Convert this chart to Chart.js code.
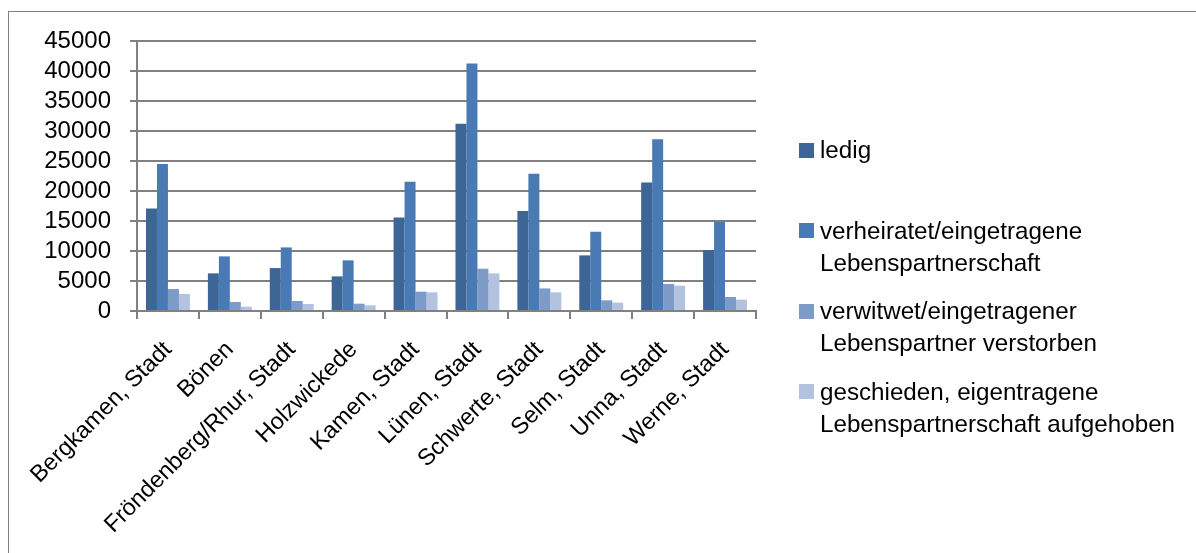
<!DOCTYPE html>
<html>
<head>
<meta charset="utf-8">
<script src="https://cdn.jsdelivr.net/npm/chart.js@4.4.1/dist/chart.umd.min.js"></script>
<style>
  html, body { margin: 0; padding: 0; background: #fff; }
  #wrap { position: relative; width: 1196px; height: 553px; overflow: hidden; }
  #frame { position: absolute; left: 8px; top: 11px; width: 1400px; height: 800px; border: 1px solid #7f7f7f; box-sizing: border-box; }
  canvas { position: absolute; left: 0; top: 0; }
  #legend { position: absolute; left: 799px; top: 134px; width: 395px; font-family: "Liberation Sans", Arial, sans-serif; font-size: 24.2px; color: #000; }
  .item { position: relative; height: 80.5px; padding-left: 21px; line-height: 32px; }
  .sw { position: absolute; left: 0; top: 8.5px; width: 15px; height: 15px; }
</style>
</head>
<body>
<div id="wrap">
  <div id="frame"></div>
  <canvas id="c" width="1196" height="553"></canvas>
  <div id="legend"></div>
</div>
<script>
const categories = ["Bergkamen, Stadt", "Bönen", "Fröndenberg/Rhur, Stadt", "Holzwickede", "Kamen, Stadt", "Lünen, Stadt", "Schwerte, Stadt", "Selm, Stadt", "Unna, Stadt", "Werne, Stadt"];
const seriesNames = ["ledig", "verheiratet/eingetragene Lebenspartnerschaft", "verwitwet/eingetragener Lebenspartner verstorben", "geschieden, eigentragene Lebenspartnerschaft aufgehoben"];
const ledig = [17100, 6270, 7160, 5770, 15600, 31200, 16650, 9270, 21420, 10160];
const verheiratet = [24480, 9100, 10600, 8440, 21530, 41240, 22870, 13210, 28640, 14870];
const verwitwet = [3660, 1500, 1670, 1220, 3220, 7050, 3770, 1780, 4500, 2330];
const geschieden = [2830, 720, 1170, 950, 3110, 6270, 3110, 1390, 4220, 1890];
const yTicks = [0, 5000, 10000, 15000, 20000, 25000, 30000, 35000, 40000, 45000];
const colors = ["#3d6596", "#4a7ab4", "#7e9bc8", "#b3c2de"];

const YFONT = { family: "'Liberation Sans', Arial, sans-serif", size: 24 };
const XFONT = { family: "'Liberation Sans', Arial, sans-serif", size: 23.5 };
const GRID = "#808080";

const chart = new Chart(document.getElementById("c"), {
  type: "bar",
  data: {
    labels: categories,
    datasets: [ledig, verheiratet, verwitwet, geschieden].map((d, i) => ({
      label: seriesNames[i],
      data: d,
      backgroundColor: colors[i],
      borderWidth: 0,
      categoryPercentage: 0.71,
      barPercentage: 1.0
    }))
  },
  options: {
    responsive: false,
    animation: false,
    devicePixelRatio: 1,
    layout: { padding: { left: 0, top: 41, right: 440, bottom: 0 } },
    plugins: { legend: { display: false }, tooltip: { enabled: false } },
    scales: {
      x: {
        offset: true,
        grid: { display: true, drawOnChartArea: false, drawTicks: true, tickLength: 8, color: GRID, lineWidth: 2, offset: true },
        border: { display: true, color: GRID, width: 2 },
        ticks: { color: "#000", font: XFONT, minRotation: 45, maxRotation: 45, padding: 17, autoSkip: false },
        afterFit: s => { s.height = 242; }
      },
      y: {
        min: 0, max: 45000,
        afterBuildTicks: s => { s.ticks = yTicks.map(v => ({ value: v })); },
        grid: { color: GRID, lineWidth: 2, drawTicks: true, tickLength: 7 },
        border: { display: true, color: GRID, width: 2 },
        ticks: { color: "#000", font: YFONT, padding: 19, autoSkip: false, callback: v => String(v) },
        afterFit: s => { s.width = 137; }
      }
    }
  }
});

const legend = document.getElementById("legend");
chart.data.datasets.forEach(ds => {
  const item = document.createElement("div");
  item.className = "item";
  const sw = document.createElement("span");
  sw.className = "sw";
  sw.style.background = ds.backgroundColor;
  item.appendChild(sw);
  item.appendChild(document.createTextNode(ds.label));
  legend.appendChild(item);
});
</script>
</body>
</html>
